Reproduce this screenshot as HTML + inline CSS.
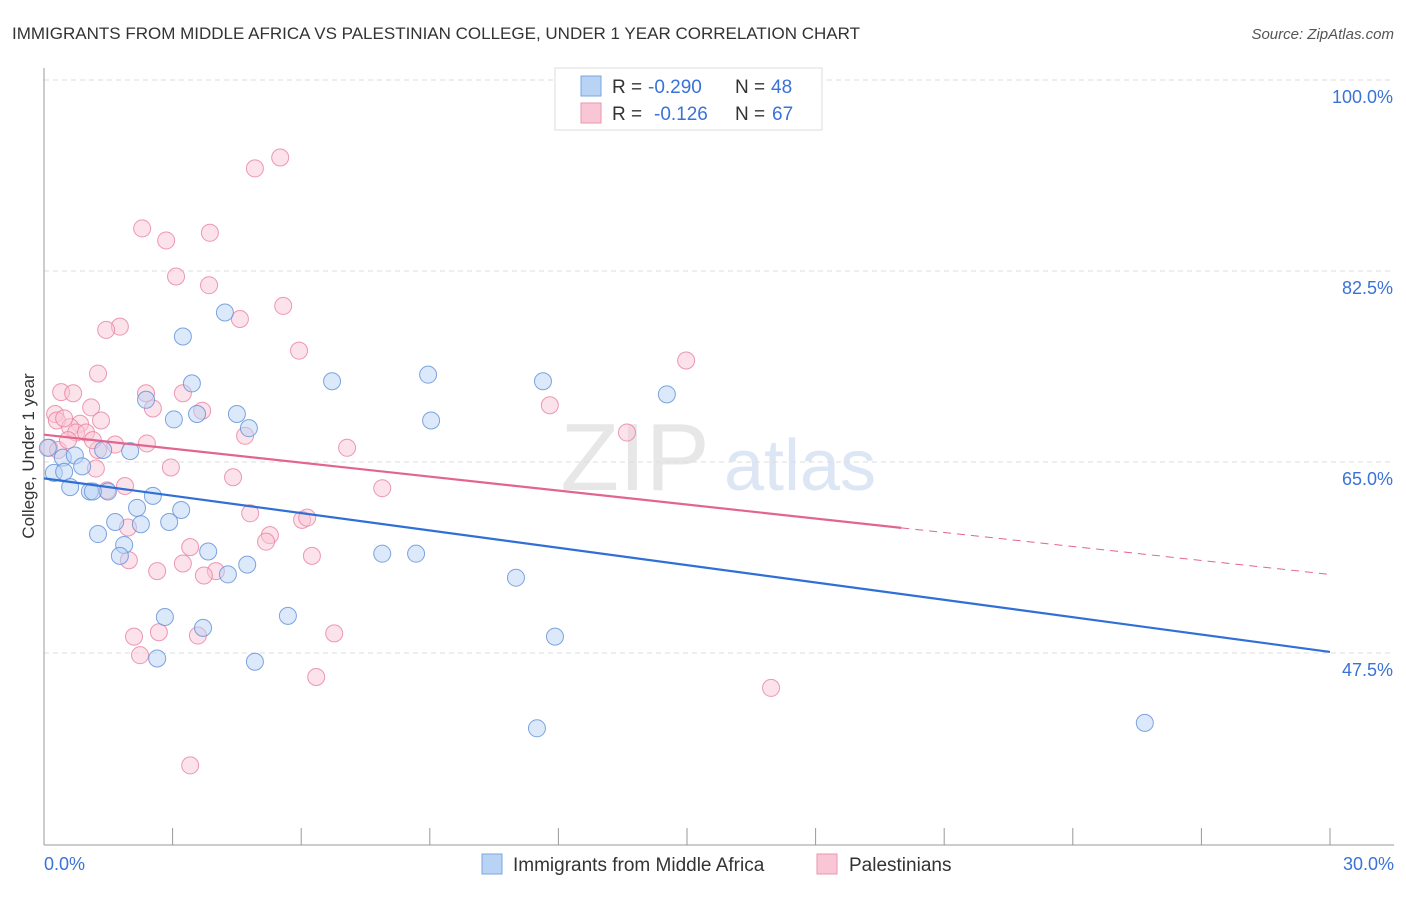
<!DOCTYPE html>
<html><head><meta charset="utf-8"><style>
body{margin:0;background:#fff;font-family:"Liberation Sans",sans-serif}
svg text{font-family:"Liberation Sans",sans-serif}
</style></head><body>
<svg id="chart" width="1406" height="892" viewBox="0 0 1406 892">
<text x="12" y="39" font-size="17" fill="#333">IMMIGRANTS FROM MIDDLE AFRICA VS PALESTINIAN COLLEGE, UNDER 1 YEAR CORRELATION CHART</text>
<text x="1394" y="39" font-size="15" fill="#555" text-anchor="end" font-style="italic">Source: ZipAtlas.com</text>
<g>
<text x="635" y="490" font-size="96" fill="#ddd" font-family="Liberation Serif" text-anchor="middle" opacity="0.7">ZIP</text>
<text x="800" y="490" font-size="72" fill="#c5d6ee" text-anchor="middle" opacity="0.6">atlas</text>
</g>
<g id="grid"></g><g id="axes"></g><g id="pts"></g><g id="trends"></g>
<text transform="translate(34,456) rotate(-90)" font-size="17" fill="#333" text-anchor="middle">College, Under 1 year</text>
<g>
<rect x="555" y="68" width="267" height="62" fill="#fff" stroke="#ddd"/>
<rect x="581" y="76" width="20" height="20" fill="#b9d3f5" stroke="#7aa5e0"/>
<rect x="581" y="103" width="20" height="20" fill="#f9c6d6" stroke="#ea95b0"/>
<text x="612" y="93" font-size="19" fill="#333">R =</text>
<text x="648" y="93" font-size="19" fill="#3a72d8">-0.290</text>
<text x="735" y="93" font-size="19" fill="#333">N =</text>
<text x="771" y="93" font-size="19" fill="#3a72d8">48</text>
<text x="612" y="120" font-size="19" fill="#333">R =</text>
<text x="654" y="120" font-size="19" fill="#3a72d8">-0.126</text>
<text x="735" y="120" font-size="19" fill="#333">N =</text>
<text x="772" y="120" font-size="19" fill="#3a72d8">67</text>
</g>
<g>
<rect x="482" y="854" width="20" height="20" fill="#b9d3f5" stroke="#7aa5e0"/>
<text x="513" y="871" font-size="19" fill="#333">Immigrants from Middle Africa</text>
<rect x="817" y="854" width="20" height="20" fill="#f9c6d6" stroke="#ea95b0"/>
<text x="849" y="871" font-size="19" fill="#333">Palestinians</text>
</g>
</svg>
<script>
const yTicks=[100,82.5,65,47.5];
const yTickLabels=["100.0%","82.5%","65.0%","47.5%"];
const xTicks=[0,3,6,9,12,15,18,21,24,27,30];
const blueX=[4.22,3.24,3.45,6.72,8.96,11.64,14.53,2.38,3.03,3.57,4.50,4.78,9.03,1.38,2.01,0.44,0.72,0.89,0.23,0.47,0.61,1.07,1.49,2.54,2.17,3.20,1.66,2.26,2.92,1.26,1.87,1.77,3.83,4.74,4.29,7.89,8.68,11.01,2.82,5.69,3.71,11.92,2.64,4.92,11.50,25.68,0.09,1.14];
const blueY=[78.7,76.5,72.2,72.4,73.0,72.4,71.2,70.7,68.9,69.4,69.4,68.1,68.8,66.1,66.0,65.4,65.6,64.6,64.0,64.1,62.7,62.3,62.3,61.9,60.8,60.6,59.5,59.3,59.5,58.4,57.4,56.4,56.8,55.6,54.7,56.6,56.6,54.4,50.8,50.9,49.8,49.0,47.0,46.7,40.6,41.1,66.3,62.3];
const pinkX=[5.51,4.92,2.29,2.85,3.87,3.08,3.85,5.58,4.57,1.77,1.45,5.95,14.98,1.26,0.40,0.68,2.38,3.24,2.54,3.69,11.80,1.10,0.26,0.30,1.33,0.84,0.61,0.75,0.98,13.60,4.69,2.40,1.66,7.07,1.26,0.12,0.33,2.96,4.41,7.89,1.89,1.47,4.81,6.02,6.14,1.96,5.27,5.18,3.41,6.25,1.98,3.24,2.64,4.01,3.73,2.68,2.10,3.59,6.77,2.24,6.35,16.96,3.41,0.56,0.47,1.14,1.21];
const pinkY=[92.9,91.9,86.4,85.3,86.0,82.0,81.2,79.3,78.1,77.4,77.1,75.2,74.3,73.1,71.4,71.3,71.3,71.3,69.9,69.7,70.2,70.0,69.4,68.8,68.8,68.5,68.2,67.7,67.7,67.7,67.4,66.7,66.6,66.3,66.1,66.3,66.1,64.5,63.6,62.6,62.8,62.4,60.3,59.7,59.9,59.0,58.3,57.7,57.2,56.4,56.0,55.7,55.0,55.0,54.6,49.4,49.0,49.1,49.3,47.3,45.3,44.3,37.2,67.0,69.0,67.0,64.4];
const blueTrend=[63.5,47.6];
const pinkTrend=[67.5,54.7];
const pinkSolidEnd=20;
const NS="http://www.w3.org/2000/svg";
const X=v=>44+v/30*1286, Y=v=>80+(100-v)*191/17.5;
function mk(t,a,p){const e=document.createElementNS(NS,t);for(const k in a)e.setAttribute(k,a[k]);p.appendChild(e);return e;}
const g=document.getElementById('grid'),ax=document.getElementById('axes'),pts=document.getElementById('pts'),tr=document.getElementById('trends');
yTicks.forEach((v,i)=>{
 const l=mk('line',{x1:44,x2:1394,y1:Y(v),y2:Y(v),stroke:'#ddd','stroke-dasharray':'5,4'},g);
 
 
 const t=mk('text',{x:1393,y:Y(v)+23,'font-size':18,fill:'#3a72d8','text-anchor':'end'},g);t.textContent=yTickLabels[i];
 
 
});
let a=mk('line',{x1:44,x2:44,y1:68,y2:845,stroke:'#999'},ax);


a=mk('line',{x1:44,x2:1394,y1:845,y2:845,stroke:'#999'},ax);


xTicks.forEach(v=>{const t=mk('line',{x1:X(v),x2:X(v),y1:828,y2:845,stroke:'#999'},ax);
 
 });
let t=mk('text',{x:44,y:870,'font-size':18,fill:'#3a72d8'},ax);t.textContent='0.0%';


t=mk('text',{x:1394,y:870,'font-size':18,fill:'#3a72d8','text-anchor':'end'},ax);t.textContent='30.0%';


function dots(xs,ys,fill,stroke,name){xs.forEach((x,i)=>{const c=mk('circle',{cx:X(x),cy:Y(ys[i]),r:8.5,fill:fill,'fill-opacity':0.5,stroke:stroke,'stroke-opacity':0.8,'stroke-width':1},pts);
 
 });}
dots(pinkX,pinkY,'#f9c6d6','#e8819f','palestinian-point');
dots(blueX,blueY,'#b9d3f5','#5f8fd8','middle-africa-point');
let L=mk('line',{x1:X(0),y1:Y(blueTrend[0]),x2:X(30),y2:Y(blueTrend[1]),stroke:'#2f6fd6','stroke-width':2.2},tr);


const pm=pinkTrend[0]+(pinkTrend[1]-pinkTrend[0])*pinkSolidEnd/30;
L=mk('line',{x1:X(0),y1:Y(pinkTrend[0]),x2:X(pinkSolidEnd),y2:Y(pm),stroke:'#e2658e','stroke-width':2.2},tr);


L=mk('line',{x1:X(pinkSolidEnd),y1:Y(pm),x2:X(30),y2:Y(pinkTrend[1]),stroke:'#e2658e','stroke-width':1,'stroke-dasharray':'8,6'},tr);


</script>
</body></html>
